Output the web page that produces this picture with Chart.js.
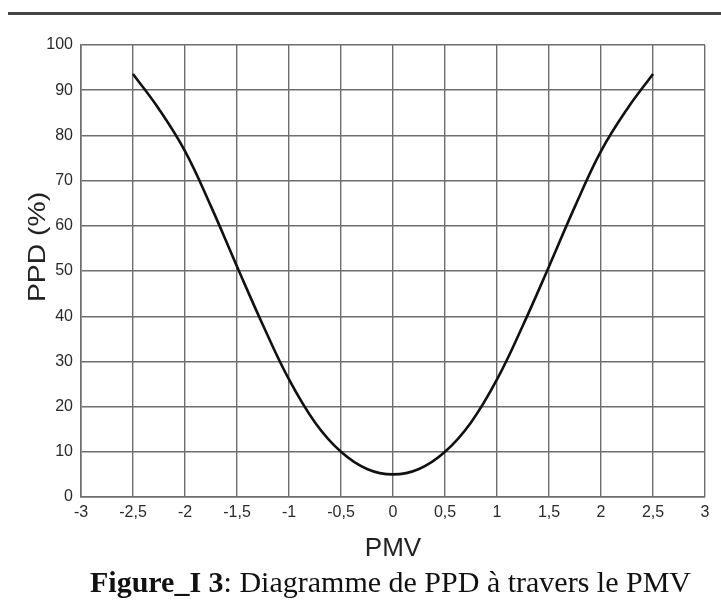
<!DOCTYPE html>
<html>
<head>
<meta charset="utf-8">
<script src="https://cdn.jsdelivr.net/npm/chart.js@4.4.1/dist/chart.umd.min.js"></script>
<style>
    html, body { margin: 0; padding: 0; background: #fff; }
    #wrap { position: relative; width: 721px; height: 606px; overflow: hidden; }
    #rule { position: absolute; left: 8px; right: 0; top: 12px; height: 3px; background: #444; }
    #chartBox { position: absolute; left: 0; top: 0; width: 721px; height: 606px; }
    #caption {
        position: absolute; left: 30px; width: 721px; top: 565px; text-align: center; white-space: nowrap;
        font-family: "Liberation Serif", "DejaVu Serif", serif; font-size: 30px; line-height: 34px; color: #111;
    }
</style>
</head>
<body>
<div id="wrap">
    <div id="rule"></div>
    <div id="chartBox"><canvas id="chart"></canvas></div>
    <div id="caption"><b>Figure_I 3</b>: Diagramme de PPD à travers le PMV</div>
</div>
<script>
// PMV (x) and PPD % (y)
const pmvValues = [-2.5, -2.25, -2, -1.75, -1.5, -1.25, -1, -0.75, -0.5, -0.25, 0,
                   0.25, 0.5, 0.75, 1, 1.25, 1.5, 1.75, 2, 2.25, 2.5];
const ppdValues = [93.6, 85.8, 76.5, 64.3, 51, 38, 26, 16.5, 10, 6.2, 5,
                   6.2, 10, 16.5, 26, 38, 51, 64.3, 76.5, 85.8, 93.6];

const xMin = -3, xMax = 3, xStep = 0.5;
const yMin = 0, yMax = 100, yStep = 10;
const yTitle = 'PPD (%)';

const gridColor = '#6e6e6e';
const fontFamily = '"Liberation Sans", Arial, sans-serif';
const tickFont = { family: fontFamily, size: 16 };
const titleFont = { family: fontFamily, size: 26 };

const points = pmvValues.map((x, i) => ({ x: x, y: ppdValues[i] }));

const commaLabel = v => String(v).replace('.', ',');

// y title is drawn a bit stretched along its length, like the picture
const yTitlePlugin = {
    id: 'yTitle',
    afterDraw(chart) {
        const c = chart.ctx;
        const mid = (chart.chartArea.top + chart.chartArea.bottom) / 2 - 24;
        c.save();
        c.translate(45, mid);
        c.rotate(-Math.PI / 2);
        c.scale(1.18, 1);
        c.font = '24px ' + fontFamily;
        c.fillStyle = '#222';
        c.textAlign = 'center';
        c.textBaseline = 'alphabetic';
        c.fillText(yTitle, 0, 0);
        c.restore();
    }
};

const ctx = document.getElementById('chart').getContext('2d');
const chart = new Chart(ctx, {
    type: 'line',
    data: {
        datasets: [{
            data: points,
            borderColor: '#111',
            borderWidth: 2.6,
            pointRadius: 0,
            fill: false,
            tension: 0.4
        }]
    },
    options: {
        responsive: true,
        maintainAspectRatio: false,
        animation: false,
        layout: { padding: { top: 45, right: 16, left: 0, bottom: 0 } },
        plugins: {
            legend: { display: false },
            tooltip: { enabled: false }
        },
        scales: {
            x: {
                type: 'linear',
                min: xMin,
                max: xMax,
                afterFit: scale => { scale.height = 109; },
                border: { color: gridColor, width: 1.6 },
                grid: { color: gridColor, lineWidth: 1.4, drawTicks: false },
                ticks: {
                    stepSize: xStep,
                    color: '#2a2a2a',
                    font: tickFont,
                    padding: 6,
                    maxRotation: 0,
                    callback: commaLabel
                },
                title: {
                    display: true,
                    text: 'PMV',
                    color: '#222',
                    font: titleFont,
                    padding: { top: 0, bottom: 42 }
                }
            },
            y: {
                min: yMin,
                max: yMax,
                afterFit: scale => { scale.width = 81; },
                border: { color: gridColor, width: 1.6 },
                grid: { color: gridColor, lineWidth: 1.4, drawTicks: false },
                ticks: {
                    stepSize: yStep,
                    color: '#2a2a2a',
                    font: tickFont,
                    padding: 8
                }
            }
        }
    },
    plugins: [yTitlePlugin]
});
</script>
</body>
</html>
